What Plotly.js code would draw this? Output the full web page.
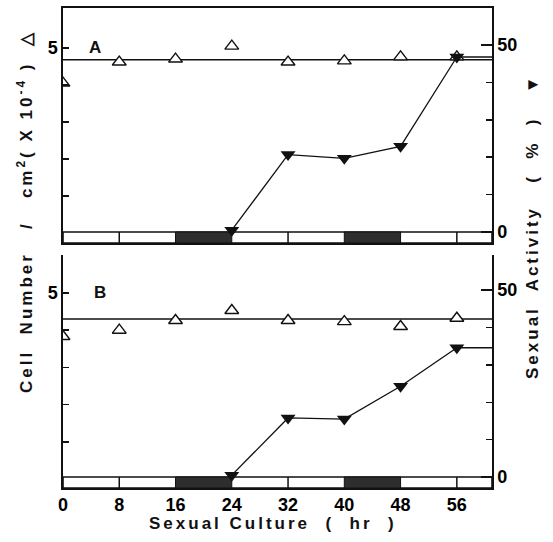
<!DOCTYPE html>
<html>
<head>
<meta charset="utf-8">
<script src="https://cdn.plot.ly/plotly-3.0.1.min.js"></script>
<style>
  html, body { margin: 0; padding: 0; background: #fff; }
  #chart { width: 553px; height: 542px; }
  .annotation-text { letter-spacing: 3px; }
</style>
</head>
<body>
<div id="chart"></div>
<script>
// ---- data ----
const hours = [0, 8, 16, 24, 32, 40, 48, 56];
const xTickVals = [0, 8, 16, 24, 32, 40, 48, 56];
const xTickText = ['0', '8', '16', '24', '32', '40', '48', '56'];
const xMax = 61;

const cellA = [4.05, 4.62, 4.70, 5.05, 4.62, 4.65, 4.76, 4.76];
const cellMeanA = 4.68;
const activityHours = [24, 32, 40, 48, 56];
const activityA = [0.5, 20.7, 19.7, 22.9, 46.8];

const cellB = [3.83, 4.00, 4.26, 4.53, 4.26, 4.23, 4.10, 4.32];
const cellMeanB = 4.30;
const activityB = [0.5, 15.8, 15.5, 24.3, 34.6];

const darkStarts = [16, 40];
const darkEnds = [24, 48];
const cycleMarks = [8, 32, 56];

const leftTickVals = [1, 2, 3, 4, 5];
const leftTickText = ['', '', '', '', '5'];
const rightTickVals = [0, 50];
const rightTickText = ['0', '50'];
const rightMinorStep = 10;

// ---- styling ----
const FONT = 'Liberation Sans, Arial, sans-serif';
const tickFont = {family: FONT, size: 18, color: '#000', weight: 700};
const titleFont = {family: FONT, size: 17, color: '#111', weight: 700};
const black = '#111';

const leftRangeA = [-0.27, 6.08];
const rightRangeA = [-2.94, 59.9];
const leftRangeB = [-0.24, 6.02];
const rightRangeB = [-2.94, 59.4];

function cellTraces(xa, ya, vals, mean) {
  return [
    {x: [0, xMax], y: [mean, mean], xaxis: xa, yaxis: ya, mode: 'lines',
     line: {color: black, width: 1.4}, hoverinfo: 'skip', showlegend: false},
    {x: hours, y: vals, xaxis: xa, yaxis: ya, mode: 'markers',
     marker: {symbol: 'triangle-up', size: 12, color: '#fff', line: {color: black, width: 1.4}},
     showlegend: false}
  ];
}
function actTraces(xa, ya, vals) {
  const last = vals[vals.length - 1];
  const lastX = activityHours[activityHours.length - 1];
  return [
    {x: [lastX, xMax], y: [last, last], xaxis: xa, yaxis: ya, mode: 'lines',
     line: {color: black, width: 1.4}, hoverinfo: 'skip', showlegend: false},
    {x: activityHours, y: vals, xaxis: xa, yaxis: ya, mode: 'lines+markers',
     line: {color: black, width: 1.3},
     marker: {symbol: 'triangle-down', size: 13, color: black},
     showlegend: false}
  ];
}

const data = [
  ...cellTraces('x', 'y', cellA, cellMeanA),
  ...actTraces('x', 'y2', activityA),
  ...cellTraces('x2', 'y3', cellB, cellMeanB),
  ...actTraces('x2', 'y4', activityB)
];

function stripShapes(xref, yref, bottom) {
  const s = [];
  s.push({type: 'rect', xref: xref, yref: yref, x0: 0, x1: xMax, y0: bottom, y1: 0,
          fillcolor: '#fff', line: {color: black, width: 1.6}, layer: 'below'});
  for (let i = 0; i < darkStarts.length; i++) {
    s.push({type: 'rect', xref: xref, yref: yref, x0: darkStarts[i], x1: darkEnds[i], y0: bottom, y1: 0,
            fillcolor: '#2e2e2e', line: {color: black, width: 1}, layer: 'below'});
  }
  cycleMarks.forEach(m => s.push({type: 'line', xref: xref, yref: yref, x0: m, x1: m, y0: bottom, y1: 0,
            line: {color: black, width: 1.5}, layer: 'below'}));
  return s;
}

const xDomain = [63 / 553, 492 / 553];
const domA = [1 - 243 / 542, 1 - 8 / 542];
const domB = [1 - 488 / 542, 1 - 255 / 542];

function leftAxis(dom, range, anchor) {
  return {domain: dom, range: range, anchor: anchor, showline: true, linecolor: black, linewidth: 1.6,
          ticks: 'inside', ticklen: 6, tickwidth: 1.5, tickcolor: black,
          tickvals: leftTickVals, ticktext: leftTickText, tickfont: tickFont,
          showgrid: false, zeroline: false, fixedrange: true};
}
function rightAxis(overlay, range, anchor) {
  return {overlaying: overlay, side: 'right', range: range, anchor: anchor, showline: true,
          linecolor: black, linewidth: 1.6, ticks: 'inside', ticklen: 11, tickwidth: 1.5, tickcolor: black,
          tickvals: rightTickVals, ticktext: rightTickText, tickfont: tickFont,
          minor: {ticks: 'inside', ticklen: 6, tickwidth: 1.5, tickcolor: black, tick0: 0, dtick: rightMinorStep, showgrid: false},
          showgrid: false, zeroline: false, fixedrange: true};
}

function note(text, px, py, angle) {
  return {text: text, xref: 'paper', yref: 'paper', x: px / 553, y: 1 - py / 542,
          xanchor: 'center', yanchor: 'middle', textangle: angle || 0, showarrow: false, font: titleFont};
}

const layout = {
  width: 553, height: 542,
  margin: {l: 0, r: 0, t: 0, b: 0},
  paper_bgcolor: '#fff', plot_bgcolor: 'rgba(0,0,0,0)',
  showlegend: false,
  xaxis: {domain: xDomain, range: [0, xMax], anchor: 'y', showline: true, mirror: true,
          linecolor: black, linewidth: 1.6, ticks: '', showticklabels: false,
          showgrid: false, zeroline: false},
  xaxis2: {domain: xDomain, range: [0, xMax], anchor: 'y3', showline: true,
           linecolor: black, linewidth: 1.6, ticks: '', tickvals: xTickVals, ticktext: xTickText,
           tickfont: tickFont, showgrid: false, zeroline: false},
  yaxis: leftAxis(domA, leftRangeA, 'x'),
  yaxis2: rightAxis('y', rightRangeA, 'x'),
  yaxis3: leftAxis(domB, leftRangeB, 'x2'),
  yaxis4: rightAxis('y3', rightRangeB, 'x2'),
  shapes: [...stripShapes('x', 'y2', rightRangeA[0]), ...stripShapes('x2', 'y4', rightRangeB[0])],
  annotations: [
    note('A', 97, 47),
    note('B', 101, 292),
    note('Cell\u00a0 Number\u00a0 \u00a0/\u00a0 \u00a0cm<sup>2</sup>( X 10<sup>-4</sup> )\u00a0 \u25b3', 25, 212, -90),
    note('Sexual\u00a0 Activity\u00a0\u00a0 (\u00a0 %\u00a0 )\u00a0\u00a0 \u25bc', 532, 226, -90),
    note('Sexual Culture\u00a0 (\u00a0 hr\u00a0 )', 273, 523)
  ]
};

Plotly.newPlot('chart', data, layout, {staticPlot: true, displayModeBar: false});
</script>
</body>
</html>
